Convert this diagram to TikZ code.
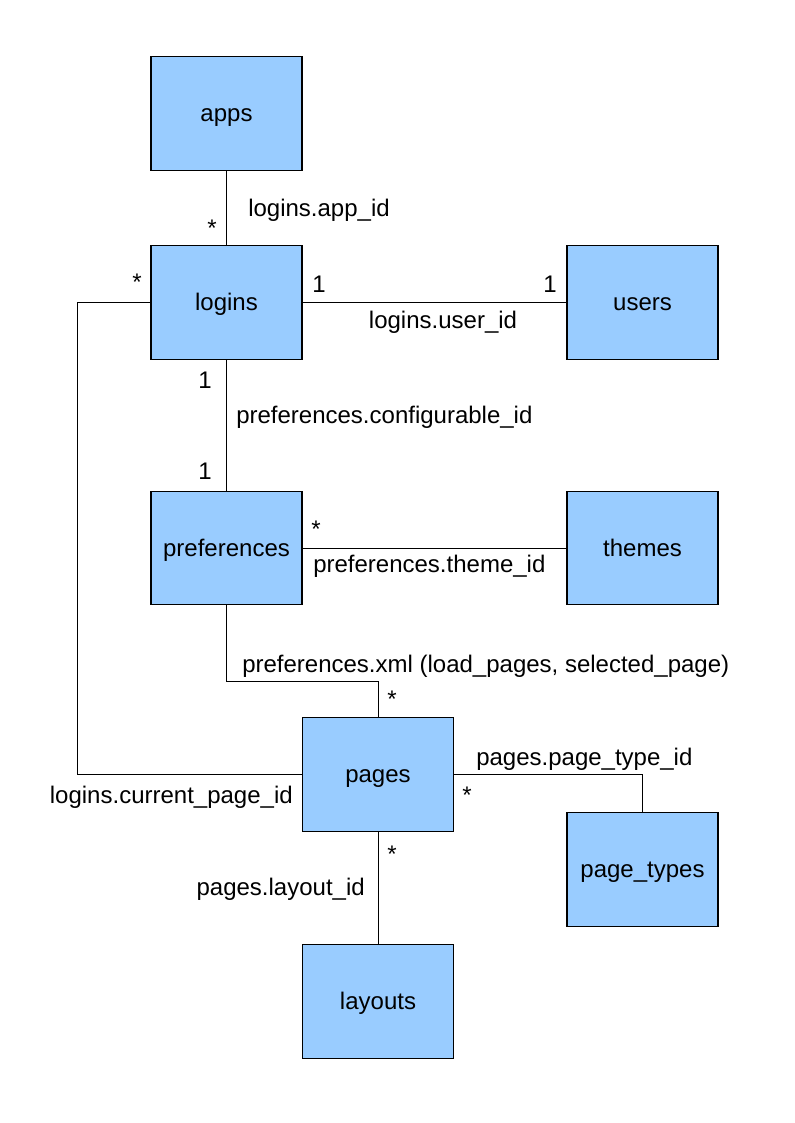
\documentclass[tikz,border=0pt]{standalone}
\usepackage{fontspec}
\setmainfont{Liberation Sans}
\usetikzlibrary{positioning}
\definecolor{tablefill}{HTML}{99CCFF}

\begin{document}
\begin{tikzpicture}[
    x=0.75pt,y=-0.75pt,
    font=\fontsize{18pt}{21pt}\selectfont,
    table/.style={draw,fill=tablefill,line width=0.8pt,minimum width=113.25pt,minimum height=85pt,inner sep=0pt,text height=14pt,text depth=2pt},
    lbl/.style={inner sep=0pt},
    link/.style={line width=0.75pt}]
  \useasboundingbox (0,0) rectangle (794,1123);
  \node[table] (apps) at (226.5,113.5) {apps};
  \node[table] (logins) at (226.5,302.5) {logins};
  \node[table] (users) at (642.5,302.5) {users};
  \node[table] (prefs) at (226.5,548) {preferences};
  \node[table] (themes) at (642.5,548) {themes};
  \node[table] (pages) at (378,774.5) {pages};
  \node[table] (ptypes) at (642.5,869.5) {page\_types};
  \node[table] (layouts) at (378,1001.5) {layouts};

  \draw[link] (apps) -- (logins);
  \draw[link] (logins) -- (users);
  \draw[link] (logins) -- (prefs);
  \draw[link] (prefs) -- (themes);
  \draw[link] (prefs.south) |- (378,681) -- (pages.north);
  \draw[link] (logins.west) -| (77,774.5) -- (pages.west);
  \draw[link] (pages.east) -| (ptypes.north);
  \draw[link] (pages) -- (layouts);

  \node[lbl,anchor=base] (s1) at (212,237) {*};
  \node[lbl,anchor=base west] (l1) at (248,217) {logins.app\_id};
  \node[lbl,anchor=base] (n1) at (319,292) {1};
  \node[lbl,anchor=base] (n2) at (550,292) {1};
  \node[lbl,anchor=base] (l2) at (443,328) {logins.user\_id};
  \node[lbl,anchor=base] (n3) at (205,388) {1};
  \node[lbl,anchor=base west] (l3) at (236,423) {preferences.configurable\_id};
  \node[lbl,anchor=base] (n4) at (205,479) {1};
  \node[lbl,anchor=base] (s2) at (316,537) {*};
  \node[lbl,anchor=base west] (l4) at (313,572) {preferences.theme\_id};
  \node[lbl,anchor=base west] (l5) at (242,672) {preferences.xml (load\_pages, selected\_page)};
  \node[lbl,anchor=base] (s3) at (392,707) {*};
  \node[lbl,anchor=base] (s4) at (137,290) {*};
  \node[lbl,anchor=base east] (l6) at (293,803) {logins.current\_page\_id};
  \node[lbl,anchor=base west] (l7) at (476,765) {pages.page\_type\_id};
  \node[lbl,anchor=base] (s5) at (467,803) {*};
  \node[lbl,anchor=base] (s6) at (392,862) {*};
  \node[lbl,anchor=base east] (l8) at (365,895) {pages.layout\_id};
\end{tikzpicture}
\end{document}
